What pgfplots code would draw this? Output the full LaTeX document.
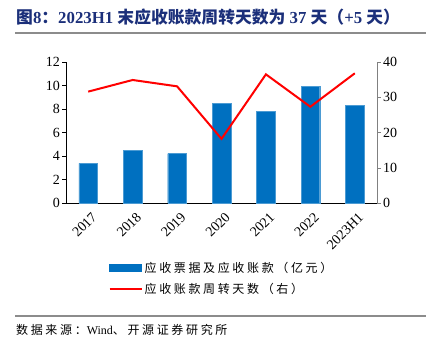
\documentclass[border=0pt]{standalone}
\usepackage{pgfplots}
\pgfplotsset{compat=1.18}
\usepackage{fontspec}
\setmainfont{Liberation Serif}
\newfontfamily\cjk{Noto Sans CJK SC}
\newfontfamily\cjkl{Noto Sans CJK SC}[LetterSpace=22]
\definecolor{barblue}{HTML}{0070C0}
\definecolor{titleblue}{HTML}{1B2F7A}
\definecolor{rulegray}{HTML}{8C8C8C}
\begin{document}
\begin{tikzpicture}
\useasboundingbox (0pt,0pt) rectangle (426pt,-349pt);
% title
\node[anchor=base west, inner sep=0, text=titleblue, font=\bfseries\fontsize{16.8}{17}\selectfont] at (16pt,-23pt)
 {{\cjk\bfseries 图}8{\cjk\bfseries ：}2023H1 {\cjk\bfseries 末应收账款周转天数为} 37 {\cjk\bfseries 天（}+5 {\cjk\bfseries 天）}};
\draw[rulegray, line width=2pt] (15pt,-33pt) -- (426pt,-33pt);
\draw[rulegray, line width=1.5pt] (15pt,-316pt) -- (426pt,-316pt);
\node[anchor=base west, inner sep=0, font=\fontsize{12}{13}\selectfont] at (16pt,-334pt)
 {{\cjkl 数据来源：}Wind{\cjkl 、开源证券研究所}};
\begin{axis}[
  at={(66pt,-203pt)}, anchor=south west,
  scale only axis, width=311pt, height=141pt,
  xmin=-0.5, xmax=6.5, ymin=0, ymax=12,
  axis y line*=left, axis x line*=bottom,
  ytick={0,2,...,12},
  xtick={0,...,6},
  xticklabels={2017,2018,2019,2020,2021,2022,2023H1},
  major x tick style={draw=none},
  extra x ticks={0.5,1.5,2.5,3.5,4.5,5.5},
  extra x tick labels={},
  extra x tick style={tick style={black, thin}, major tick length=4pt},
  tick align=outside,
  major tick length=4pt,
  tick style={black, thin},
  axis line style={black, thin},
  /pgf/number format/assume math mode=true,
  ticklabel style={font=\fontsize{14}{14}\selectfont},
  xticklabel style={rotate=45, anchor=north east, inner sep=1pt, yshift=-4pt},
  yticklabel style={inner sep=2pt},
  legend style={at={(0.5,-0.39)}, anchor=north, draw=none, fill=none,
    font=\cjkl\fontsize{12}{13}\selectfont, row sep=5pt,
    /tikz/every even column/.append style={column sep=2pt}},
  legend cell align=left,
  clip=false,
]
\addplot[ybar, bar width=18.7pt, fill=barblue, draw=barblue!70!white, line width=0.4pt, forget plot]
 coordinates {(0,3.38) (1,4.48) (2,4.20) (3,8.51) (4,7.83) (5,9.93) (6,8.31)};
\addlegendimage{legend image code/.code={\fill[barblue] (0pt,-3.5pt) rectangle (32pt,3.5pt);}}
\addlegendentry{应收票据及应收账款（亿元）}
\addlegendimage{legend image code/.code={\draw[red, line width=2pt] (0pt,0pt) -- (32pt,0pt);}}
\addlegendentry{应收账款周转天数（右）}
\end{axis}
\begin{axis}[
  at={(66pt,-203pt)}, anchor=south west,
  scale only axis, width=311pt, height=141pt,
  xmin=-0.5, xmax=6.5, ymin=0, ymax=40,
  axis y line*=right, axis x line=none,
  ytick={0,10,...,40},
  tick align=outside, major tick length=4pt,
  tick style={gray, thin},
  axis line style={gray, thin},
  /pgf/number format/assume math mode=true,
  ticklabel style={font=\fontsize{14}{14}\selectfont},
  yticklabel style={inner sep=2pt},
]
\addplot[red, line width=2pt, mark=none]
 coordinates {(0,31.6) (1,34.9) (2,33.1) (3,18.2) (4,36.5) (5,27.3) (6,36.8)};
\end{axis}
\end{tikzpicture}
\end{document}
